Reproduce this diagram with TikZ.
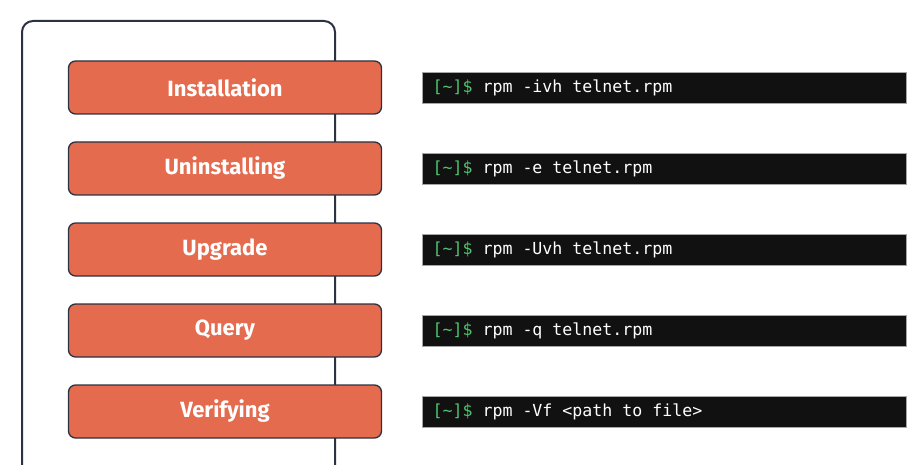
\documentclass[tikz,border=0pt]{standalone}
\usepackage{fontspec}
\setmainfont{Fira Sans}
\newfontfamily\termfont{DejaVu Sans Mono}
\usetikzlibrary{positioning}

\definecolor{framedark}{HTML}{2B3242}
\definecolor{rpmorange}{HTML}{E56B4F}
\definecolor{termblack}{HTML}{111111}
\definecolor{promptgreen}{HTML}{4EC56E}

\tikzset{
    taskbox/.style={draw=framedark, fill=rpmorange, line width=1.3pt, rounded corners=7pt,
        minimum width=313pt, minimum height=53pt, text=white,
        font=\bfseries\fontsize{22}{22}\selectfont},
    cmdbox/.style={draw=gray!70, fill=termblack, line width=0.8pt, anchor=west,
        minimum height=31pt, inner xsep=10pt, inner ysep=0pt,
        text=white, font=\termfont\fontsize{16.6}{16.6}\selectfont}
}

\begin{document}
\begin{tikzpicture}[x=1pt, y=-1pt]
    \useasboundingbox (0,0) rectangle (923,465);

    % outer frame
    \draw[framedark, line width=2pt, rounded corners=11pt] (22,472) -- (22,21) -- (335,21) -- (335,472);

    % rpm operations and commands
    \foreach \lbl/\opt [count=\i] in {Installation/{-ivh telnet.rpm},
                                      Uninstalling/{-e telnet.rpm},
                                      Upgrade/{-Uvh telnet.rpm},
                                      Query/{-q telnet.rpm},
                                      Verifying/{-Vf <path to file>}} {
        \node[taskbox] (task\i) at (225, {87.5+81*(\i-1)}) {\lbl};
        \node[cmdbox, right=40pt of task\i] (cmd\i)
            {\makebox[464pt][l]{{\color{promptgreen}[\textasciitilde]\$} rpm \opt}};
    }
\end{tikzpicture}
\end{document}
